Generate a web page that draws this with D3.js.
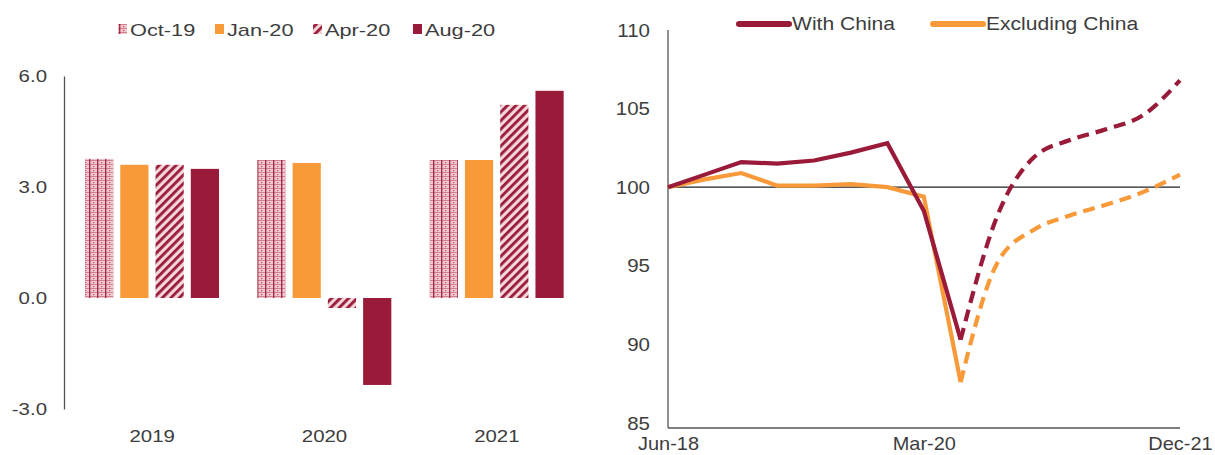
<!DOCTYPE html>
<html><head><meta charset="utf-8">
<script src="https://cdn.jsdelivr.net/npm/d3@7"></script>
<style>
html,body{margin:0;padding:0;background:#fff;}
svg{display:block;font-family:"Liberation Sans",Arial,sans-serif;}
</style></head>
<body><svg id="c" width="1215" height="455"></svg>
<script>
// ---- Left chart data ----
const years = ["2019","2020","2021"];
const barSeries = ["Oct-19","Jan-20","Apr-20","Aug-20"];
const oct19 = [3.76, 3.73, 3.73];
const jan20 = [3.60, 3.65, 3.73];
const apr20 = [3.60, -0.27, 5.22];
const aug20 = [3.49, -2.35, 5.60];
const leftTicks = [-3, 0, 3, 6];

// ---- Right chart data ----
const months = ["2018-06","2018-09","2018-12","2019-03","2019-06","2019-09","2019-12","2020-03","2020-06",
                "2020-09","2020-12","2021-03","2021-06","2021-09","2021-12"];
const withChina = [100, 100.8, 101.6, 101.5, 101.7, 102.2, 102.8, 98.5, 90.3, 98.2, 101.9, 103.0, 103.7, 104.6, 106.8];
const exChina   = [100, 100.5, 100.9, 100.1, 100.1, 100.2, 100.0, 99.4, 87.6, 95.2, 97.3, 98.2, 98.9, 99.7, 100.8];
const forecastStart = "2020-06";
const rightTicks = [85, 90, 95, 100, 105, 110];
const rightXTicks = ["2018-06","2020-03","2021-12"];
const lineSeries = ["With China","Excluding China"];

const MAROON = "#9a1b39", ORANGE = "#f89a3a", TXT = "#3d3d3d", AX = "#555";
const svg = d3.select("#c");
const defs = svg.append("defs");

function stretch(sel, f){
  sel.each(function(){
    const w = this.getComputedTextLength();
    this.setAttribute("textLength", (w*f).toFixed(1));
    this.setAttribute("lengthAdjust","spacingAndGlyphs");
  });
}

// patterns
const pOct = defs.append("pattern").attr("id","pOct").attr("patternUnits","userSpaceOnUse")
  .attr("width",8).attr("height",4);
pOct.append("rect").attr("width",8).attr("height",4).attr("fill","#efc9cf");
pOct.append("rect").attr("x",0).attr("y",0).attr("width",8).attr("height",1).attr("fill","#d27f90");
pOct.append("rect").attr("x",1).attr("y",0).attr("width",1.4).attr("height",4).attr("fill","#a82a48");
pOct.append("rect").attr("x",5).attr("y",2).attr("width",1.2).attr("height",1.2).attr("fill","#b84a63");

const pApr = defs.append("pattern").attr("id","pApr").attr("patternUnits","userSpaceOnUse")
  .attr("width",6).attr("height",6).attr("patternTransform","rotate(45)");
pApr.append("rect").attr("width",6).attr("height",6).attr("fill","#f3d5da");
pApr.append("rect").attr("x",0).attr("y",0).attr("width",2.8).attr("height",6).attr("fill",MAROON);

const fills = {"Oct-19":"url(#pOct)","Jan-20":ORANGE,"Apr-20":"url(#pApr)","Aug-20":MAROON};
const valsBy = {"Oct-19":oct19,"Jan-20":jan20,"Apr-20":apr20,"Aug-20":aug20};

// ---- Left chart ----
const x0 = d3.scaleBand().domain(years).range([66, 583]);
const x1 = d3.scaleBand().domain(barSeries).range([19, 153]).paddingInner(0.2);
const yL = d3.scaleLinear().domain([-3, 6]).range([409, 76]);

const gL = svg.append("g");
years.forEach((yr, i) => {
  barSeries.forEach(s => {
    const v = valsBy[s][i];
    gL.append("rect")
      .attr("x", x0(yr) + x1(s))
      .attr("width", x1.bandwidth())
      .attr("y", yL(Math.max(0, v)))
      .attr("height", Math.abs(yL(v) - yL(0)))
      .attr("fill", fills[s]);
  });
});

const axL = gL.append("g").attr("transform","translate(64,0)")
  .call(d3.axisLeft(yL).tickValues(leftTicks).tickFormat(d => d.toFixed(1)).tickSize(0).tickSizeOuter(0).tickPadding(17));
axL.select(".domain").attr("stroke", AX).attr("stroke-width",1.3);
axL.selectAll("text").attr("fill",TXT).style("font-size","17px").call(stretch,1.2);

const axB = gL.append("g").attr("transform","translate(0,426)")
  .call(d3.axisBottom(x0).tickSize(0).tickPadding(4));
axB.select(".domain").remove();
axB.selectAll("text").attr("fill",TXT).style("font-size","17px").call(stretch,1.2);

// left legend
const legXs = [118, 215, 313, 413];
barSeries.forEach((s, i) => {
  const g = svg.append("g").attr("transform",`translate(${legXs[i]},0)`);
  g.append("rect").attr("x",0).attr("y",24).attr("width",9).attr("height",10).attr("fill",fills[s]);
  g.append("text").attr("x",12).attr("y",36).text(s).attr("fill",TXT).style("font-size","17px").call(stretch,1.28);
});

// ---- Right chart ----
const parse = d3.timeParse("%Y-%m");
const xR = d3.scaleTime().domain([parse("2018-06"), parse("2021-12")]).range([668, 1180]);
const yR = d3.scaleLinear().domain([85, 110]).range([423, 30]);
const gR = svg.append("g");

const axRY = gR.append("g").attr("transform","translate(668,0)")
  .call(d3.axisLeft(yR).tickValues(rightTicks).tickSize(0).tickPadding(18));
axRY.select(".domain").remove();
axRY.selectAll("text").attr("fill",TXT).style("font-size","19px").call(stretch,1.08);

const axRX = gR.append("g").attr("transform","translate(0,428)")
  .call(d3.axisBottom(xR).tickValues(rightXTicks.map(parse)).tickFormat(d3.timeFormat("%b-%y")).tickSize(0).tickPadding(9));
axRX.select(".domain").remove();
axRX.selectAll("text").attr("fill",TXT).style("font-size","19px").call(stretch,1.05);

// axis lines
gR.append("line").attr("x1",668).attr("x2",668).attr("y1",yR(110)).attr("y2",428).attr("stroke",AX).attr("stroke-width",1.3);
gR.append("line").attr("x1",668).attr("x2",xR.range()[1]).attr("y1",428).attr("y2",428).attr("stroke",AX).attr("stroke-width",1.3);
gR.append("line").attr("x1",668).attr("x2",xR.range()[1]).attr("y1",yR(100)).attr("y2",yR(100)).attr("stroke","#222").attr("stroke-width",1.2);

const fIdx = months.indexOf(forecastStart);
function drawSeries(vals, color){
  const pts = months.map((m,i)=>({d:parse(m), v:vals[i]}));
  const solid = pts.slice(0, fIdx+1), dashed = pts.slice(fIdx);
  const lineS = d3.line().x(p=>xR(p.d)).y(p=>yR(p.v));
  const lineD = d3.line().x(p=>xR(p.d)).y(p=>yR(p.v)).curve(d3.curveMonotoneX);
  gR.append("path").attr("d", lineS(solid)).attr("fill","none").attr("stroke",color)
    .attr("stroke-width",4.2).attr("stroke-linejoin","miter");
  gR.append("path").attr("d", lineD(dashed)).attr("fill","none").attr("stroke",color)
    .attr("stroke-width",4.2).attr("stroke-dasharray","12,7");
}
drawSeries(exChina, ORANGE);
drawSeries(withChina, MAROON);

// right legend
const rLeg = [{x:739, c:MAROON}, {x:933, c:ORANGE}];
lineSeries.forEach((s,i)=>{
  const g = svg.append("g").attr("transform",`translate(${rLeg[i].x},0)`);
  g.append("line").attr("x1",0).attr("x2",50).attr("y1",24).attr("y2",24).attr("stroke",rLeg[i].c)
    .attr("stroke-width",6).attr("stroke-linecap","round");
  g.append("text").attr("x",53).attr("y",30).text(s).attr("fill",TXT).style("font-size","18px").call(stretch,1.17);
});
</script></body></html>
